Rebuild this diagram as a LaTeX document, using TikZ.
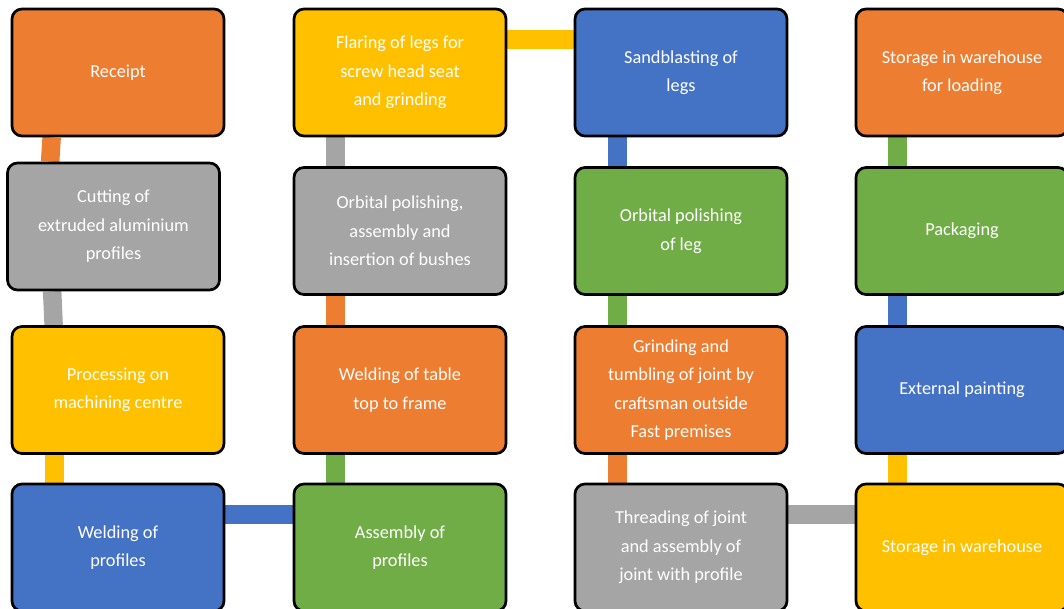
\documentclass[tikz,border=0pt]{standalone}
\usepackage{fontspec}
\setmainfont{Carlito}
\usetikzlibrary{backgrounds}
\definecolor{boxorange}{HTML}{ED7D31}
\definecolor{boxgray}{HTML}{A5A5A5}
\definecolor{boxyellow}{HTML}{FFC000}
\definecolor{boxblue}{HTML}{4472C4}
\definecolor{boxgreen}{HTML}{70AD47}
\begin{document}
\begin{tikzpicture}[x=1pt, y=-1pt, main/.style = {draw=black, line width=2.7pt, rounded corners=10pt, minimum width=212pt, minimum height=127pt, align=center, text=white, font=\fontsize{18.3}{28.5}\selectfont}, link/.style = {line width=18.5pt}]
        \clip (0,0) rectangle (1064,609);

        % first column, downwards
        \node[main, fill=boxorange] (1) at (118,72.5)    {Receipt};
        \node[main, fill=boxgray] (2) at (113.5,226.5)   {Cutting of\\extruded aluminium\\profiles};
        \node[main, fill=boxyellow] (3) at (118,390)     {Processing on\\machining centre};
        \node[main, fill=boxblue] (4) at (118,547.5)     {Welding of\\profiles};

        % second column, upwards
        \node[main, fill=boxgreen] (5) at (400,547.5)    {Assembly of\\profiles};
        \node[main, fill=boxorange] (6) at (400,390)     {Welding of table\\top to frame};
        \node[main, fill=boxgray] (7) at (400,231)       {Orbital polishing,\\assembly and\\insertion of bushes};
        \node[main, fill=boxyellow] (8) at (400,72.5)    {Flaring of legs for\\screw head seat\\and grinding};

        % third column, downwards
        \node[main, fill=boxblue] (9) at (681,72.5)      {Sandblasting of\\legs};
        \node[main, fill=boxgreen] (10) at (681,231)     {Orbital polishing\\of leg};
        \node[main, fill=boxorange] (11) at (681,390)    {Grinding and\\tumbling of joint by\\craftsman outside\\Fast premises};
        \node[main, fill=boxgray] (12) at (681,547.5)    {Threading of joint\\and assembly of\\joint with profile};

        % fourth column, upwards
        \node[main, fill=boxyellow] (13) at (962,547.5)  {Storage in warehouse};
        \node[main, fill=boxblue] (14) at (962,390)      {External painting};
        \node[main, fill=boxgreen] (15) at (962,231)     {Packaging};
        \node[main, fill=boxorange] (16) at (962,72.5)   {Storage in warehouse\\for loading};

        \begin{scope}[on background layer]
        \draw[link, boxorange] ([xshift=41pt]1.south west) -- ([xshift=44pt]2.north west);
        \draw[link, boxgray] ([xshift=46pt]2.south west) -- ([xshift=43pt]3.north west);
        \draw[link, boxyellow] ([xshift=44pt]3.south west) -- ([xshift=44pt]4.north west);
        \draw[link, boxblue] ([yshift=-32pt]4.north east) -- ([yshift=-32pt]5.north west);
        \draw[link, boxgreen] ([xshift=43pt]5.north west) -- ([xshift=43pt]6.south west);
        \draw[link, boxorange] ([xshift=43pt]6.north west) -- ([xshift=43pt]7.south west);
        \draw[link, boxgray] ([xshift=43pt]7.north west) -- ([xshift=43pt]8.south west);
        \draw[link, boxyellow] ([yshift=-32pt]8.north east) -- ([yshift=-32pt]9.north west);
        \draw[link, boxblue] ([xshift=44pt]9.south west) -- ([xshift=44pt]10.north west);
        \draw[link, boxgreen] ([xshift=44pt]10.south west) -- ([xshift=44pt]11.north west);
        \draw[link, boxorange] ([xshift=44pt]11.south west) -- ([xshift=44pt]12.north west);
        \draw[link, boxgray] ([yshift=-32pt]12.north east) -- ([yshift=-32pt]13.north west);
        \draw[link, boxyellow] ([xshift=43pt]13.north west) -- ([xshift=43pt]14.south west);
        \draw[link, boxblue] ([xshift=43pt]14.north west) -- ([xshift=43pt]15.south west);
        \draw[link, boxgreen] ([xshift=43pt]15.north west) -- ([xshift=43pt]16.south west);
        \end{scope}

    \end{tikzpicture}
\end{document}
